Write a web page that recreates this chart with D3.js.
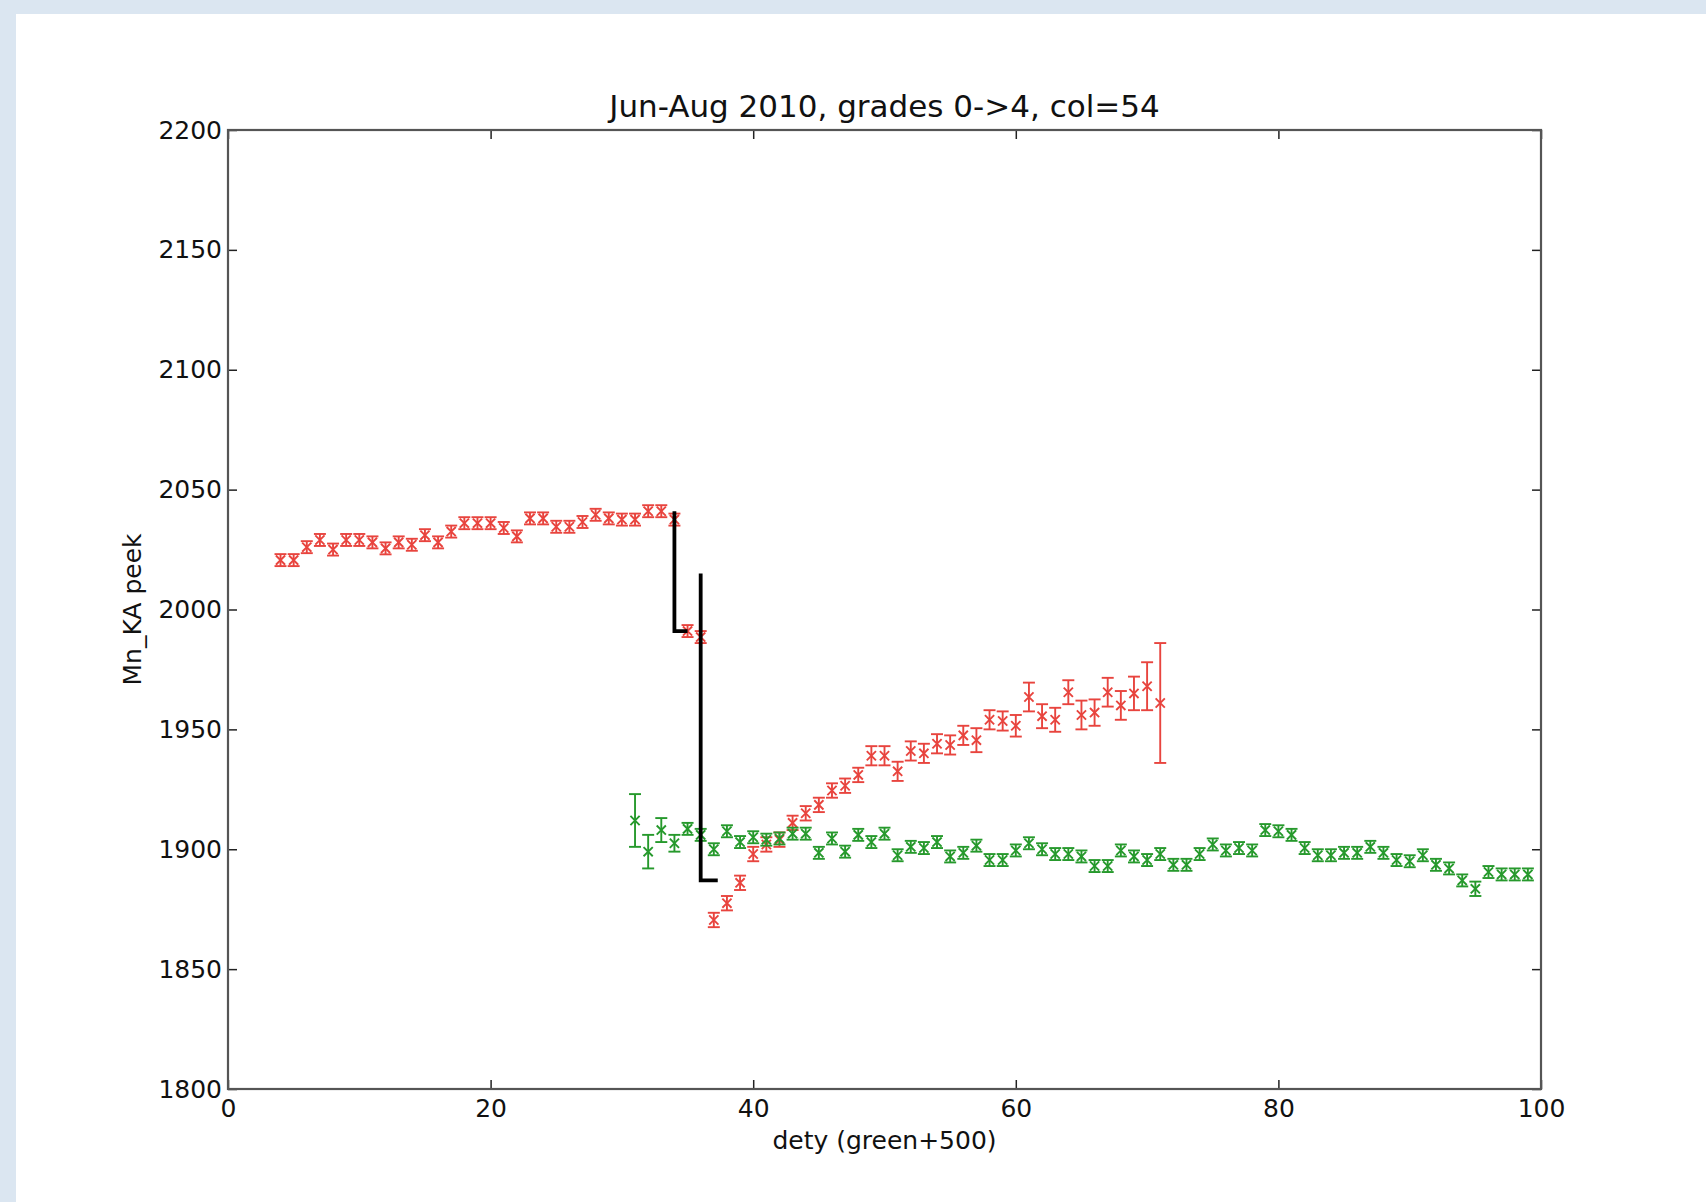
<!DOCTYPE html>
<html>
<head>
<meta charset="utf-8">
<script src="https://cdn.jsdelivr.net/npm/d3@7/dist/d3.min.js"></script>
<style>
  html, body { margin: 0; padding: 0; background: #dbe6f1; overflow: hidden; }
  svg text { font-family: "DejaVu Sans", sans-serif; fill: #111; }
</style>
</head>
<body>
<div id="chart"></div>
<script>
// Mn_KA peak position vs dety, red = first run, green = same scan shifted (green+500)
const titleText = "Jun-Aug 2010, grades 0->4, col=54";
const xLabel = "dety (green+500)";
const yLabel = "Mn_KA peek";

const xTicks = [0, 20, 40, 60, 80, 100];
const yTicks = [1800, 1850, 1900, 1950, 2000, 2050, 2100, 2150, 2200];

const redX = [4, 5, 6, 7, 8, 9, 10, 11, 12, 13, 14, 15, 16, 17, 18, 19, 20, 21, 22, 23, 24, 25, 26, 27,
  28, 29, 30, 31, 32, 33, 34, 35, 36, 37, 38, 39, 40, 41, 42, 43, 44, 45, 46, 47, 48, 49, 50, 51,
  52, 53, 54, 55, 56, 57, 58, 59, 60, 61, 62, 63, 64, 65, 66, 67, 68, 69, 70, 71];
const redY = [2020.6, 2020.6, 2026, 2029, 2025, 2029, 2029, 2028, 2025.5, 2028, 2027, 2031, 2028, 2032.5,
  2036, 2036, 2036, 2034, 2030.5, 2038, 2038, 2034.5, 2034.5, 2036.5, 2039.5, 2038, 2037.5, 2037.5,
  2041, 2041, 2037.5, 1991, 1988.5, 1870.5, 1877.5, 1886, 1898, 1902, 1904, 1911, 1915, 1918.5,
  1924.5, 1926.5, 1931, 1939, 1939, 1932.5, 1941, 1940, 1944, 1943.5, 1947.5, 1945.5, 1954, 1953.5,
  1951.5, 1963.5, 1955.5, 1954, 1965.5, 1956, 1957, 1965.5, 1960, 1965, 1968, 1961];
const redErr = [2.5, 2.5, 2.5, 2.5, 2.5, 2.5, 2.5, 2.5, 2.5, 2.5, 2.5, 2.5, 2.5, 2.5, 2.5, 2.5, 2.5, 2.5,
  2.5, 2.5, 2.5, 2.5, 2.5, 2.5, 2.5, 2.5, 2.5, 2.5, 2.5, 2.5, 2.5, 2.5, 2.5, 3, 3, 3, 3, 3, 3, 3, 3,
  3, 3, 3, 3, 4, 4, 4, 4, 4, 4, 4, 4, 5, 4, 4, 4.5, 6, 5, 5, 5, 6, 5.5, 6, 6, 7, 10, 25];

const greenX = [31, 32, 33, 34, 35, 36, 37, 38, 39, 40, 41, 42, 43, 44, 45, 46, 47, 48, 49, 50, 51, 52,
  53, 54, 55, 56, 57, 58, 59, 60, 61, 62, 63, 64, 65, 66, 67, 68, 69, 70, 71, 72, 73, 74, 75, 76, 77,
  78, 79, 80, 81, 82, 83, 84, 85, 86, 87, 88, 89, 90, 91, 92, 93, 94, 95, 96, 97, 98, 99];
const greenY = [1912, 1899, 1908, 1902.5, 1908.5, 1906, 1900, 1907.5, 1903, 1905, 1904, 1904.5, 1906.5,
  1906.5, 1898.5, 1904.5, 1899, 1906, 1903, 1906.5, 1897.5, 1901, 1900.5, 1903, 1897, 1898.5, 1901.5,
  1895.5, 1895.5, 1899.5, 1902.5, 1900, 1898, 1898, 1897, 1893, 1893, 1899.5, 1897, 1895.5, 1898,
  1893.5, 1893.5, 1898, 1902, 1899.5, 1900.5, 1899.5, 1908, 1907.5, 1906, 1900.5, 1897.5, 1897.5,
  1898.5, 1898.5, 1901, 1898.5, 1895.5, 1895, 1897.5, 1893.5, 1892, 1887, 1883.5, 1890.5, 1889.5,
  1889.5, 1889.5];
const greenErr = [11, 7, 5, 3.5, 2.5, 2.5, 2.5, 2.5, 2.5, 2.5, 2.5, 2.5, 2.5, 2.5, 2.5, 2.5, 2.5, 2.5,
  2.5, 2.5, 2.5, 2.5, 2.5, 2.5, 2.5, 2.5, 2.5, 2.5, 2.5, 2.5, 2.5, 2.5, 2.5, 2.5, 2.5, 2.5, 2.5, 2.5,
  2.5, 2.5, 2.5, 2.5, 2.5, 2.5, 2.5, 2.5, 2.5, 2.5, 2.5, 2.5, 2.5, 2.5, 2.5, 2.5, 2.5, 2.5, 2.5, 2.5,
  2.5, 2.5, 2.5, 2.5, 2.5, 2.5, 3, 2.5, 2.5, 2.5, 2.5];

// the two black step markers around the jump
const stepAX = [34, 34, 35];
const stepAY = [2041, 1991, 1991];
const stepBX = [36, 36, 37.3];
const stepBY = [2015, 1887, 1887];

const W = 1706, H = 1202;
const m = { left: 228, right: 165, top: 130, bottom: 113 };

const svg = d3.select("#chart").append("svg").attr("width", W).attr("height", H);
svg.append("rect").attr("x", 16).attr("y", 14).attr("width", W - 16).attr("height", H - 14).attr("fill", "#fff");

const x = d3.scaleLinear().domain([0, 100]).range([m.left, W - m.right]);
const y = d3.scaleLinear().domain([1800, 2200]).range([H - m.bottom, m.top]);

function series(xs, ys, es, color) {
  const pts = xs.map((v, i) => ({ x: v, y: ys[i], e: es[i] }));
  const g = svg.append("g").attr("stroke", color).attr("stroke-width", 1.9).attr("fill", "none");
  const cap = 6, mk = 4.6;
  const p = g.selectAll("g").data(pts).join("g");
  p.append("line").attr("x1", (d) => x(d.x)).attr("x2", (d) => x(d.x))
    .attr("y1", (d) => y(d.y - d.e)).attr("y2", (d) => y(d.y + d.e));
  p.append("line").attr("x1", (d) => x(d.x) - cap).attr("x2", (d) => x(d.x) + cap)
    .attr("y1", (d) => y(d.y - d.e)).attr("y2", (d) => y(d.y - d.e));
  p.append("line").attr("x1", (d) => x(d.x) - cap).attr("x2", (d) => x(d.x) + cap)
    .attr("y1", (d) => y(d.y + d.e)).attr("y2", (d) => y(d.y + d.e));
  p.append("path").attr("d", (d) => {
    const cx = x(d.x), cy = y(d.y);
    return `M${cx - mk},${cy - mk}L${cx + mk},${cy + mk}M${cx - mk},${cy + mk}L${cx + mk},${cy - mk}`;
  });
}

series(redX, redY, redErr, "#e8443e");
series(greenX, greenY, greenErr, "#26992c");

const line = d3.line().x((d) => x(d[0])).y((d) => y(d[1]));
[[stepAX, stepAY], [stepBX, stepBY]].forEach(([xs, ys]) => {
  svg.append("path").datum(xs.map((v, i) => [v, ys[i]])).attr("d", line)
    .attr("fill", "none").attr("stroke", "#000").attr("stroke-width", 3.8);
});

// frame and inward ticks on all four sides
const axStyle = (g) => {
  g.select(".domain").remove();
  g.selectAll(".tick line").attr("stroke", "#222").attr("stroke-width", 1.5);
  g.selectAll(".tick text").attr("font-size", 25).attr("fill", "#111");
};
svg.append("g").attr("transform", `translate(0,${H - m.bottom})`)
  .call(d3.axisBottom(x).tickValues(xTicks).tickSize(-9).tickPadding(10).tickFormat(d3.format("d"))).call(axStyle);
svg.append("g").attr("transform", `translate(0,${m.top})`)
  .call(d3.axisTop(x).tickValues(xTicks).tickSize(-9).tickFormat("")).call(axStyle);
svg.append("g").attr("transform", `translate(${m.left},0)`)
  .call(d3.axisLeft(y).tickValues(yTicks).tickSize(-9).tickPadding(6).tickFormat(d3.format("d"))).call(axStyle);
svg.append("g").attr("transform", `translate(${W - m.right},0)`)
  .call(d3.axisRight(y).tickValues(yTicks).tickSize(-9).tickFormat("")).call(axStyle);

svg.append("rect").attr("x", m.left).attr("y", m.top)
  .attr("width", W - m.left - m.right).attr("height", H - m.top - m.bottom)
  .attr("fill", "none").attr("stroke", "#555").attr("stroke-width", 2.2);

svg.append("text").attr("x", (m.left + W - m.right) / 2).attr("y", 117)
  .attr("text-anchor", "middle").attr("font-size", 31).text(titleText);
svg.append("text").attr("x", (m.left + W - m.right) / 2).attr("y", 1149)
  .attr("text-anchor", "middle").attr("font-size", 25).text(xLabel);
svg.append("text").attr("transform", `translate(141,${(m.top + H - m.bottom) / 2}) rotate(-90)`)
  .attr("text-anchor", "middle").attr("font-size", 25).text(yLabel);
</script>
</body>
</html>
